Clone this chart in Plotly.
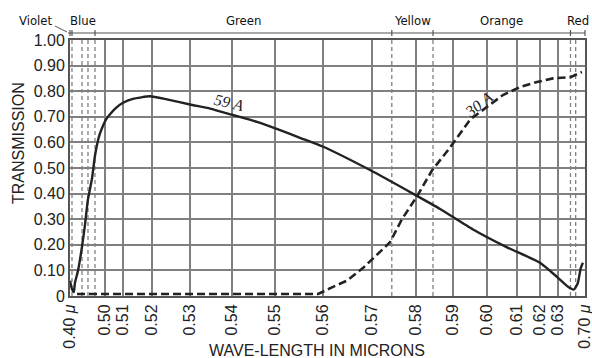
import numpy as np
import plotly.graph_objects as go

# ---- x scale (non-uniform spectral scale) ----
SCALE_WL = [0.40, 0.50, 0.51, 0.52, 0.53, 0.54, 0.55, 0.56, 0.57, 0.58, 0.59, 0.60, 0.61, 0.62, 0.63, 0.70]
SCALE_POS = [0, 35, 53, 82, 120, 162, 205, 253, 302, 346, 383, 417, 447, 470, 488, 515]
TICK_TEXT = ["0.40 <i>μ</i>", "0.50", "0.51", "0.52", "0.53", "0.54", "0.55", "0.56", "0.57",
             "0.58", "0.59", "0.60", "0.61", "0.62", "0.63", "0.70 <i>μ</i>"]

Y_TICKS = [0, 0.1, 0.2, 0.3, 0.4, 0.5, 0.6, 0.7, 0.8, 0.9, 1.0]
Y_TEXT = ["0", "0.10", "0.20", "0.30", "0.40", "0.50", "0.60", "0.70", "0.80", "0.90", "1.00"]

# ---- filter 59 A (solid) ----
wl_59 = [0.400, 0.405, 0.411, 0.414, 0.423, 0.434, 0.443, 0.451, 0.463, 0.471, 0.4786, 0.4857,
         0.4943, 0.5006, 0.5028, 0.5061, 0.510, 0.5134, 0.5193, 0.5239, 0.530, 0.5348, 0.5402,
         0.5458, 0.5505, 0.5552, 0.5598, 0.5696, 0.5798, 0.5865, 0.5959, 0.6067, 0.620, 0.6294,
         0.657, 0.6708, 0.6812, 0.6892, 0.6946]
t_59 = [0.06, 0.03, 0.015, 0.05, 0.10, 0.19, 0.28, 0.375, 0.46, 0.545, 0.60, 0.635,
        0.665, 0.69, 0.71, 0.735, 0.755, 0.77, 0.78, 0.768, 0.748, 0.732, 0.707,
        0.68, 0.652, 0.618, 0.585, 0.492, 0.395, 0.34, 0.26, 0.19, 0.13, 0.075,
        0.035, 0.025, 0.05, 0.11, 0.13]

# ---- filter 30 A (dashed) ----
wl_30 = [0.420, 0.500, 0.540, 0.559, 0.5614, 0.5649, 0.5682, 0.5711, 0.5741, 0.5768, 0.5803,
         0.5843, 0.5892, 0.5951, 0.600, 0.6053, 0.6113, 0.6187, 0.6272, 0.6623, 0.6919]
t_30 = [0.008, 0.008, 0.008, 0.008, 0.03, 0.06, 0.11, 0.16, 0.21, 0.30, 0.39,
        0.49, 0.58, 0.69, 0.74, 0.785, 0.816, 0.836, 0.85, 0.855, 0.875]

# ---- colour bands ----
BAND_NAMES = ["Blue", "Green", "Yellow", "Orange", "Red"]
BAND_EDGES = [0.4057, 0.4714, 0.5745, 0.5846, 0.6623, 0.70]
DASHED_WL = [0.4057, 0.4343, 0.4514, 0.4714, 0.5745, 0.5846, 0.6623, 0.6758]


def to_pos(wl):
    return np.interp(wl, SCALE_WL, SCALE_POS)


INK = "#222222"
GRID = "#808080"
FONT = "Liberation Sans, Arial, sans-serif"
HAND = "DejaVu Sans Condensed, DejaVu Sans, sans-serif"
XMAX = SCALE_POS[-1]

fig = go.Figure()
fig.add_trace(go.Scatter(x=to_pos(wl_59), y=t_59, mode="lines",
                         line=dict(color=INK, width=2.4, shape="spline", smoothing=0.5),
                         showlegend=False, hoverinfo="skip"))
fig.add_trace(go.Scatter(x=to_pos(wl_30), y=t_30, mode="lines",
                         line=dict(color=INK, width=2.6, dash="8px,4px"),
                         showlegend=False, hoverinfo="skip"))

shapes = []
for w in DASHED_WL:
    p = float(to_pos(w))
    shapes.append(dict(type="line", xref="x", yref="paper", x0=p, x1=p, y0=0, y1=1,
                       line=dict(color=GRID, width=1.3, dash="4px,3px"), layer="below"))
# band header line
band_y = 1 + 7 / 256
shapes.append(dict(type="line", xref="paper", yref="paper", x0=-2 / XMAX, x1=1, y0=band_y, y1=band_y,
                   line=dict(color="#555", width=1.2)))
for w in [0.40] + BAND_EDGES:
    p = float(to_pos(w)) / XMAX
    shapes.append(dict(type="line", xref="paper", yref="paper", x0=p, x1=p,
                       y0=band_y - 3 / 256, y1=band_y + 3 / 256, line=dict(color="#555", width=1.2)))
# violet pointer
shapes.append(dict(type="line", xref="paper", yref="paper", x0=-15 / XMAX, x1=-3 / XMAX,
                   y0=1 + 14 / 256, y1=1 + 8 / 256, line=dict(color="#555", width=1)))

annotations = []
for name, a, b in zip(BAND_NAMES, BAND_EDGES[:-1], BAND_EDGES[1:]):
    c = (float(to_pos(a)) + float(to_pos(b))) / 2 / XMAX
    annotations.append(dict(x=c, y=1 + 20 / 256, xref="paper", yref="paper", text=name,
                            xanchor="center", yanchor="middle",
                            showarrow=False, font=dict(family=HAND, size=13, color="#111")))
annotations.append(dict(x=-34 / XMAX, y=1 + 20 / 256, xref="paper", yref="paper", text="Violet",
                        xanchor="center", yanchor="middle",
                        showarrow=False, font=dict(family=HAND, size=13, color="#111")))
annotations.append(dict(x=float(to_pos(0.5393)), y=0.755, xref="x", yref="y", text="<i>59 A</i>",
                        showarrow=False, textangle=13, xanchor="center", yanchor="middle",
                        font=dict(family="Liberation Serif, serif", size=16, color=INK)))
annotations.append(dict(x=float(to_pos(0.5975)), y=0.75, xref="x", yref="y", text="<i>30 A</i>",
                        showarrow=False, textangle=-38, xanchor="center", yanchor="middle",
                        font=dict(family="Liberation Serif, serif", size=16, color=INK)))
annotations.append(dict(x=247 / XMAX, y=0, xref="paper", yref="paper", yanchor="middle", yshift=-54,
                        xanchor="center",
                        text="WAVE-LENGTH IN MICRONS", showarrow=False,
                        font=dict(family=FONT, size=16, color=INK)))
annotations.append(dict(x=0, y=(296 - 143) / 256, xref="paper", yref="paper", xshift=-52,
                        xanchor="center", yanchor="middle",
                        text="TRANSMISSION", textangle=-90, showarrow=False,
                        font=dict(family=FONT, size=16, color=INK)))

fig.update_layout(
    width=592, height=358,
    margin=dict(l=70, r=7, t=40, b=62, autoexpand=False),
    paper_bgcolor="white", plot_bgcolor="white",
    shapes=shapes, annotations=annotations,
    font=dict(family=FONT, size=16, color=INK),
    xaxis=dict(range=[0, XMAX], tickvals=SCALE_POS, ticktext=TICK_TEXT, tickangle=-90,
               showgrid=True, gridcolor=GRID, gridwidth=1.5, zeroline=False,
               showline=True, mirror=True, linecolor="#555", linewidth=2,
               ticks="", ticklabeloverflow="allow",
               tickfont=dict(family=FONT, size=16, color=INK)),
    yaxis=dict(range=[0, 1], tickvals=Y_TICKS, ticktext=Y_TEXT,
               showgrid=True, gridcolor=GRID, gridwidth=1.5, zeroline=False,
               showline=True, mirror=True, linecolor="#555", linewidth=2,
               ticks="", tickfont=dict(family=FONT, size=16, color=INK)),
)

fig.write_html("out.html", config={"displayModeBar": False},
               post_script="document.body.style.margin='0';")
